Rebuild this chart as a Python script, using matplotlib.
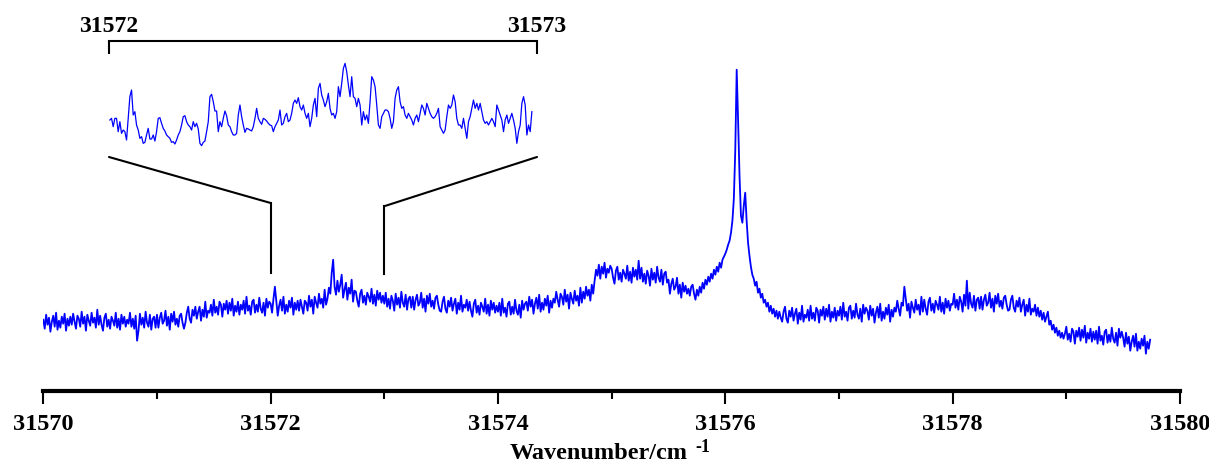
"""Spectrum with a zoomed inset of the 31572-31573 cm-1 region."""

import numpy as np
import matplotlib

matplotlib.use("Agg")
import matplotlib.pyplot as plt
from matplotlib.patches import ConnectionPatch

plt.rcParams["font.family"] = ["Liberation Serif", "DejaVu Serif"]
plt.rcParams["font.weight"] = "bold"

# main spectrum, sampled every 0.0125 cm-1 from 31570 (arbitrary intensity units),
# one row per 0.25 cm-1
spectrum_start = 31570.0
spectrum_step = 0.0125
spectrum = [
    71, 62, 76, 66, 73, 59, 69, 75, 64, 78, 61, 70, 63, 74, 67, 77, 60, 72, 65, 74,
    66, 77, 69, 62, 75, 72, 64, 79, 67, 74, 60, 76, 70, 65, 78, 68, 73, 63, 81, 66,
    75, 66, 60, 73, 77, 64, 71, 62, 74, 70, 65, 78, 63, 72, 61, 76, 67, 74, 64, 71,
    67, 78, 64, 72, 62, 75, 50, 60, 77, 66, 73, 63, 79, 68, 64, 76, 61, 72, 74, 63,
    76, 63, 73, 78, 67, 70, 80, 65, 74, 61, 77, 69, 79, 66, 72, 64, 75, 77, 68, 62,
    68, 78, 84, 72, 68, 81, 75, 84, 72, 79, 84, 70, 81, 74, 89, 73, 80, 78, 86, 75,
    91, 78, 84, 76, 89, 86, 74, 87, 81, 90, 77, 88, 80, 92, 75, 85, 79, 89, 76, 86,
    81, 90, 77, 94, 80, 85, 76, 89, 91, 78, 86, 79, 93, 82, 78, 88, 75, 92, 83, 89,
    87, 78, 92, 104, 89, 75, 85, 91, 80, 94, 77, 86, 79, 90, 83, 93, 76, 88, 81, 90,
    80, 91, 84, 77, 90, 88, 80, 95, 84, 91, 77, 94, 88, 83, 97, 87, 92, 83, 101, 86,
    92, 103, 97, 118, 131, 104, 96, 110, 99, 106, 116, 93, 101, 108, 91, 103, 97, 111, 89, 100,
    99, 90, 84, 97, 101, 88, 95, 86, 98, 94, 89, 102, 87, 96, 85, 100, 91, 98, 88, 95,
    87, 98, 84, 92, 82, 95, 90, 80, 97, 86, 93, 83, 99, 88, 84, 96, 81, 92, 94, 83,
    94, 81, 91, 96, 85, 88, 98, 83, 92, 79, 95, 87, 97, 84, 90, 82, 93, 95, 86, 80,
    79, 89, 94, 82, 78, 90, 84, 93, 80, 87, 92, 77, 88, 81, 95, 79, 86, 83, 91, 80,
    89, 80, 74, 87, 91, 78, 85, 76, 88, 84, 79, 92, 77, 86, 75, 90, 81, 88, 78, 85,
    79, 88, 75, 92, 78, 83, 74, 87, 89, 76, 84, 77, 91, 80, 76, 86, 73, 90, 81, 87,
    89, 80, 94, 84, 91, 77, 87, 93, 82, 96, 79, 88, 81, 92, 85, 95, 78, 90, 83, 92,
    88, 99, 91, 84, 97, 94, 86, 101, 89, 96, 82, 98, 92, 87, 100, 90, 95, 85, 103, 88,
    99, 92, 104, 95, 101, 90, 106, 97, 110, 121, 115, 126, 112, 124, 117, 128, 113, 122, 118, 125,
    122, 113, 107, 120, 124, 111, 118, 109, 121, 117, 112, 125, 110, 119, 108, 123, 114, 121, 111, 130,
    112, 123, 109, 117, 107, 120, 115, 105, 122, 111, 118, 108, 124, 113, 109, 121, 106, 117, 119, 108,
    111, 97, 107, 112, 101, 104, 113, 97, 106, 93, 108, 99, 105, 97, 102, 95, 104, 106, 97, 91,
    101, 95, 104, 98, 108, 102, 111, 106, 114, 109, 117, 112, 121, 116, 124, 119, 128, 123, 131, 134,
    137, 141, 146, 150, 158, 170, 192, 240, 321, 270, 215, 175, 168, 185, 198, 170, 148, 135, 124, 116,
    112, 105, 109, 98, 102, 93, 97, 88, 91, 84, 88, 79, 85, 77, 82, 74, 80, 72, 79, 73,
    69, 79, 84, 72, 68, 80, 74, 83, 70, 77, 82, 67, 78, 71, 85, 69, 76, 73, 81, 70,
    85, 72, 78, 70, 83, 80, 68, 81, 75, 84, 71, 82, 74, 86, 69, 79, 73, 83, 70, 80,
    75, 84, 71, 88, 74, 79, 70, 83, 85, 72, 80, 73, 87, 76, 72, 82, 69, 86, 77, 83,
    80, 71, 85, 75, 82, 68, 78, 84, 73, 87, 70, 79, 72, 83, 76, 86, 69, 81, 74, 83,
    79, 90, 82, 75, 88, 85, 104, 92, 80, 87, 73, 89, 83, 78, 91, 81, 86, 76, 94, 79,
    91, 82, 76, 89, 93, 80, 87, 78, 90, 86, 81, 94, 79, 88, 77, 92, 83, 90, 80, 87,
    86, 97, 83, 91, 81, 94, 89, 79, 96, 85, 110, 82, 98, 87, 83, 95, 80, 91, 93, 82,
    94, 81, 91, 96, 85, 88, 98, 83, 92, 79, 95, 87, 97, 84, 90, 82, 93, 95, 86, 80,
    81, 91, 95, 83, 79, 90, 84, 93, 79, 86, 91, 75, 86, 79, 92, 76, 82, 79, 86, 75,
    83, 74, 80, 71, 78, 69, 74, 79, 66, 70, 61, 66, 58, 63, 55, 60, 53, 58, 52, 57,
    64, 51, 57, 49, 62, 59, 47, 60, 54, 63, 50, 61, 53, 65, 48, 58, 52, 62, 49, 59,
    51, 60, 47, 64, 50, 55, 46, 59, 61, 48, 56, 49, 63, 52, 48, 58, 45, 62, 53, 59,
    53, 44, 58, 47, 54, 40, 49, 55, 44, 57, 40, 49, 42, 52, 45, 55, 37, 49, 42, 51,
]

# zoomed region 31572-31573 (own intensity scale)
zoom_range = (31572.002, 31572.988)
zoom_signal = [
    105, 110, 85, 110, 110, 70, 100, 65, 75, 70, 45, 110, 175, 195, 120, 130,
    90, 75, 50, 55, 35, 38, 60, 80, 48, 48, 60, 42, 70, 110, 112, 95, 80, 72,
    60, 55, 50, 38, 40, 33, 45, 60, 70, 90, 115, 118, 100, 90, 85, 75, 100, 85,
    95, 78, 35, 28, 38, 42, 70, 100,
    175, 182, 160, 132, 132, 70, 100, 85, 110, 132, 118, 90, 85, 70, 60, 60,
    65, 120, 150, 115, 90, 68, 80, 78, 75, 72, 85, 110, 140, 110, 100, 92,
    110, 107, 102, 95, 90, 88, 70, 85, 95, 105, 135, 90, 95, 115, 125, 100,
    105, 125, 155, 165, 155, 172, 145, 135, 150, 125, 110, 125, 85, 110, 150,
    170, 115, 200, 215, 180, 165, 145, 160, 185, 140, 120, 125, 110, 130, 205,
    175, 215, 260, 275, 250, 210, 175, 235, 175, 170, 145, 170, 150, 90, 130,
    105, 120, 95, 160, 235, 225, 205, 150, 90, 80, 115, 125, 135, 135, 130,
    110, 80, 100, 170, 195, 205, 160, 140, 145, 120, 110, 125, 115, 105, 90,
    110, 120, 100, 125, 150, 140, 120, 155, 140, 125, 115, 110, 115, 125, 140,
    85, 75, 65, 75, 115, 150, 140, 150, 180, 160, 110, 90, 90, 80, 110, 80,
    50, 100, 115, 140, 165, 140, 155, 135, 155, 130, 105, 95, 100, 90, 100,
    110, 100, 85, 150, 135, 120, 105, 70, 105, 120, 95, 110, 125, 105, 80, 35,
    70, 90, 155, 175, 150, 60, 90, 70, 130,
]

main_ticks = [31570, 31572, 31574, 31576, 31578, 31580]
zoom_ticks = [31572, 31573]
line_color = "#0000ff"

wavenumber = spectrum_start + spectrum_step * np.arange(len(spectrum))
zoom_wavenumber = np.linspace(zoom_range[0], zoom_range[1], len(zoom_signal))

W, H = 1209, 466
fig = plt.figure(figsize=(W / 100, H / 100), dpi=100)

# main axes: bottom spine only
x0, x1, y_axis = 43.3, 1180.0, 390.7
ax = fig.add_axes([x0 / W, (H - y_axis) / H, (x1 - x0) / W, y_axis / H])
ax.plot(wavenumber, spectrum, color=line_color, lw=1.3)
ax.set_xlim(31570, 31580)
ax.set_ylim(0, y_axis)
for side in ("left", "right", "top"):
    ax.spines[side].set_visible(False)
ax.spines["bottom"].set_linewidth(3)
ax.set_yticks([])
ax.set_xticks(main_ticks)
ax.set_xticks(range(31570, 31581), minor=True)
ax.set_xticklabels([str(t) for t in main_ticks], fontsize=17.5, fontweight="bold")
ax.tick_params(axis="x", which="major", direction="out", length=9, width=1.5, pad=8)
ax.tick_params(axis="x", which="minor", direction="out", length=6, width=1.5)
ax.set_xlabel("Wavenumber/cm", fontsize=17.5, fontweight="bold")
ax.xaxis.set_label_coords(0.489, -0.135)
ax.annotate("-1", xy=(1, 1), xycoords=ax.xaxis.label, xytext=(5, -3),
            textcoords="offset points", fontsize=13, fontweight="bold",
            va="center", ha="left")

# inset axes: top spine acts as the bracket
top, bottom = 40.7, 160.0
ins = fig.add_axes([109 / W, (H - bottom) / H, 428 / W, (bottom - top) / H])
ins.patch.set_alpha(0)
ins.plot(zoom_wavenumber, zoom_signal, color=line_color, lw=0.9)
ins.set_xlim(31572, 31573)
ins.set_ylim(-15, 343)
for side in ("left", "right", "bottom"):
    ins.spines[side].set_visible(False)
ins.spines["top"].set_linewidth(1.5)
ins.set_yticks([])
ins.xaxis.tick_top()
ins.set_xticks(zoom_ticks)
ins.set_xticklabels([str(t) for t in zoom_ticks], fontsize=17, fontweight="bold")
ins.tick_params(axis="x", direction="in", length=9.5, width=1.5, pad=3)

# connector lines from the inset down to the main axis
for wn, y_join, y_low, y_ins in [(31572, 187.7, 118, -6), (31573, 184.5, 117, -6)]:
    ax.plot([wn, wn], [y_low, y_join], color="black", lw=1.5, clip_on=False)
    con = ConnectionPatch(xyA=(wn, y_ins), coordsA=ins.transData,
                          xyB=(wn, y_join), coordsB=ax.transData,
                          color="black", lw=1.5)
    fig.add_artist(con)

fig.savefig("out.png", dpi=100)
plt.close(fig)
